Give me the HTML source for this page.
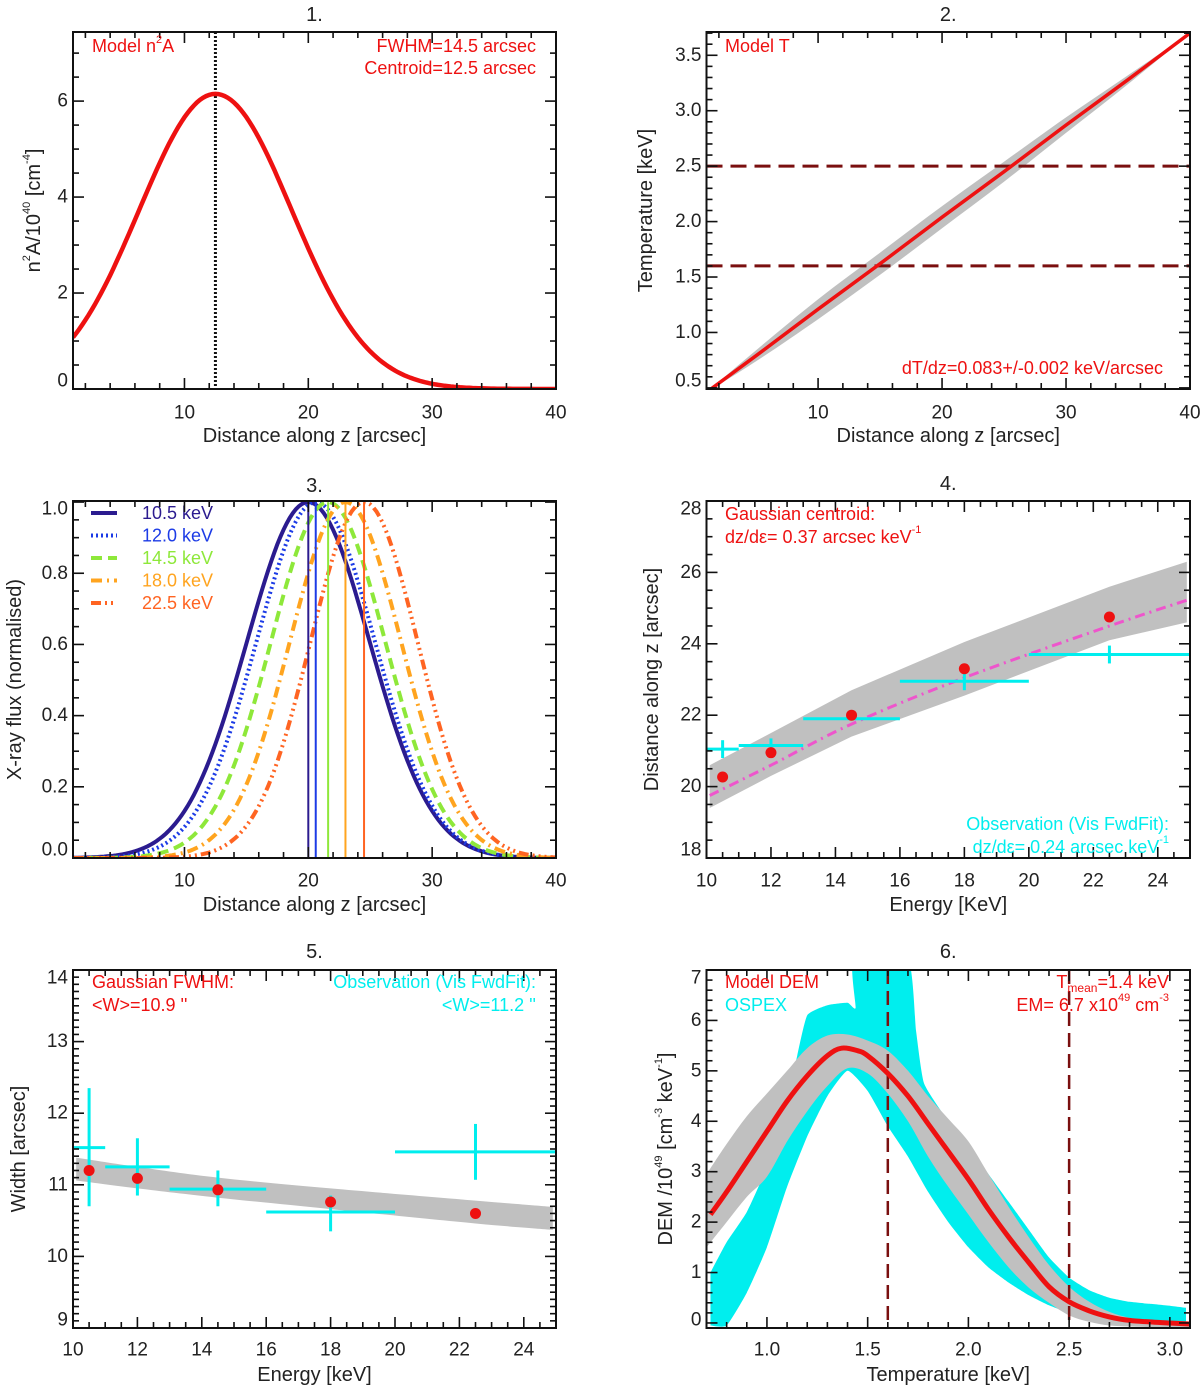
<!DOCTYPE html>
<html><head><meta charset="utf-8"><title>Six panel model figure</title>
<style>
html,body{margin:0;padding:0;background:#fff;}
svg{display:block;font-family:"Liberation Sans",sans-serif;}
.tk{font-size:19px;fill:#222;}
.ttl{font-size:20px;fill:#222;}
.ann{font-size:18px;}
</style></head>
<body>
<svg id="fig" xmlns="http://www.w3.org/2000/svg" width="1200" height="1387" viewBox="0 0 1200 1387"></svg>
<script>
// ---------- DATA ----------
const p1Peak = [6.15];
const p1Centroid = [12.5];
const p1Fwhm = [14.5];
const p2Z = [1, 5, 10, 15, 20, 25, 30, 35, 40];
const p2T = [0.46, 0.79, 1.21, 1.62, 2.04, 2.45, 2.87, 3.28, 3.70];
const p2Band = [0.0, 0.05, 0.09, 0.10, 0.10, 0.09, 0.07, 0.04, 0.0];
const p2Levels = [1.6, 2.5];
const p3Energies = ["10.5", "12.0", "14.5", "18.0", "22.5"];
const p3Centroid = [20.0, 20.6, 21.6, 23.0, 24.5];
const p3Fwhm = [11.7, 11.3, 10.9, 10.6, 10.2];
const p4BandE = [10.1, 12, 14.5, 18, 22.5, 24.9];
const p4BandHi = [20.6, 21.5, 22.7, 24.05, 25.6, 26.3];
const p4BandLo = [19.4, 20.3, 21.4, 22.55, 24.1, 24.6];
const p4FitE = [10.1, 12, 14.5, 18, 22.5, 25];
const p4FitZ = [19.75, 20.6, 21.75, 23.05, 24.5, 25.25];
const p4ModelE = [10.5, 12, 14.5, 18, 22.5];
const p4ModelZ = [20.27, 20.95, 22.0, 23.3, 24.75];
const p4ObsZ = [21.05, 21.15, 21.9, 22.95, 23.7];
const p4ObsELo = [10, 11, 13, 16, 20];
const p4ObsEHi = [11, 13, 16, 20, 25];
const p4ObsErr = [0.25, 0.2, 0.05, 0.25, 0.25];
const p5BandE = [10.1, 12, 14.5, 18, 22.5, 24.9];
const p5BandHi = [11.38, 11.25, 11.1, 10.95, 10.78, 10.69];
const p5BandLo = [11.06, 10.95, 10.82, 10.66, 10.46, 10.37];
const p5ModelE = [10.5, 12, 14.5, 18, 22.5];
const p5ModelW = [11.2, 11.09, 10.93, 10.76, 10.6];
const p5ObsW = [11.52, 11.25, 10.94, 10.62, 11.46];
const p5ObsWLo = [10.7, 10.85, 10.7, 10.35, 11.07];
const p5ObsWHi = [12.35, 11.65, 11.2, 10.85, 11.85];
const p5ObsELo = [10, 11, 13, 16, 20];
const p5ObsEHi = [11, 13, 16, 20, 25];
const p6T = [0.72, 0.8, 0.9, 1.0, 1.1, 1.2, 1.3, 1.37, 1.45, 1.5, 1.6, 1.7, 1.8, 1.9, 2.0, 2.1, 2.2, 2.3, 2.4, 2.5, 2.6, 2.7, 2.8, 2.9, 3.0, 3.1];
const p6Dem = [2.15, 2.6, 3.2, 3.8, 4.4, 4.9, 5.3, 5.45, 5.4, 5.3, 4.95, 4.5, 3.95, 3.4, 2.85, 2.25, 1.7, 1.2, 0.72, 0.42, 0.24, 0.12, 0.05, 0.02, 0.0, -0.02];
const p6BandT = [0.7, 0.8, 0.9, 1.0, 1.1, 1.2, 1.3, 1.4, 1.5, 1.6, 1.7, 1.8, 1.9, 2.0, 2.1, 2.2, 2.3, 2.4, 2.5, 2.6, 2.7, 2.8, 2.9, 3.0, 3.1];
const p6BandHi = [2.95, 3.55, 4.1, 4.55, 5.0, 5.45, 5.7, 5.72, 5.6, 5.4, 5.0, 4.5, 4.05, 3.6, 2.95, 2.3, 1.7, 1.15, 0.72, 0.42, 0.22, 0.1, 0.04, 0.0, -0.05];
const p6BandLo = [1.5, 2.0, 2.5, 2.9, 3.6, 4.2, 4.7, 5.05, 4.95, 4.55, 4.0, 3.3, 2.7, 2.15, 1.6, 1.1, 0.7, 0.4, 0.15, 0.02, -0.05, -0.07, -0.08, -0.08, -0.08];
const p6OspexUpT = [0.72, 0.8, 0.9, 1.0, 1.1, 1.15, 1.2, 1.3, 1.4, 1.44, 1.43, 1.70, 1.74, 1.78, 1.9, 2.0, 2.1, 2.2, 2.3, 2.4, 2.5, 2.6, 2.7, 2.8, 2.9, 3.0, 3.08];
const p6OspexUp = [1.0, 1.6, 2.2, 3.1, 4.4, 5.3, 6.1, 6.3, 6.35, 6.25, 7.2, 7.2, 5.8, 4.75, 4.0, 3.5, 2.95, 2.4, 1.85, 1.3, 0.9, 0.65, 0.5, 0.42, 0.38, 0.34, 0.3];
const p6OspexLoT = [0.72, 0.8, 0.9, 1.0, 1.1, 1.2, 1.3, 1.4, 1.5, 1.6, 1.7, 1.8, 1.9, 2.0, 2.1, 2.2, 2.3, 2.4, 2.5, 2.6, 2.7, 2.8, 3.08];
const p6OspexLo = [-0.05, -0.05, 0.6, 1.5, 2.7, 3.7, 4.5, 5.0, 4.6, 3.9, 3.3, 2.6, 2.0, 1.5, 1.1, 0.8, 0.55, 0.35, 0.2, 0.12, 0.08, 0.05, 0.0];
const p6Levels = [1.6, 2.5];

// ---------- HELPERS ----------
const NS = "http://www.w3.org/2000/svg";
const svg = document.getElementById("fig");
function mk(tag, attrs, parent) {
  const e = document.createElementNS(NS, tag);
  for (const k in attrs) e.setAttribute(k, attrs[k]);
  (parent || svg).appendChild(e);
  return e;
}
function panel(id, x0, x1, y0, y1, xr, yr) {
  const g = mk("g", {});
  
  
  const cp = mk("clipPath", { id: "clip-" + id }, g);
  mk("rect", { x: x0, y: y0, width: x1 - x0, height: y1 - y0 }, cp);
  const plot = mk("g", { "clip-path": "url(#clip-" + id + ")" }, g);
  
  
  return {
    g, plot, x0, x1, y0, y1,
    sx: v => x0 + (v - xr[0]) / (xr[1] - xr[0]) * (x1 - x0),
    sy: v => y1 - (v - yr[0]) / (yr[1] - yr[0]) * (y1 - y0),
    xr, yr
  };
}
function axes(P, xt, yt, xlab, ylab, title, xfmt, yfmt, xlabY, ylabX, titleY) {
  const { g, x0, x1, y0, y1 } = P;
  const eps = 1e-6;
  const tg = mk("g", { stroke: "#111", "stroke-width": 1.6 }, g);
  
  
  for (let v = Math.ceil((P.xr[0] - eps) / xt[1]) * xt[1]; v <= P.xr[1] + eps; v += xt[1]) {
    const maj = Math.abs(v / xt[0] - Math.round(v / xt[0])) < 1e-4;
    const L = maj ? 11 : 6, X = P.sx(v);
    mk("line", { x1: X, x2: X, y1: y1, y2: y1 - L }, tg);
    mk("line", { x1: X, x2: X, y1: y0, y2: y0 + L }, tg);
  }
  for (let v = Math.ceil((P.yr[0] - eps) / yt[1]) * yt[1]; v <= P.yr[1] + eps; v += yt[1]) {
    const maj = Math.abs(v / yt[0] - Math.round(v / yt[0])) < 1e-4;
    const L = maj ? 11 : 6, Y = P.sy(v);
    mk("line", { y1: Y, y2: Y, x1: x0, x2: x0 + L }, tg);
    mk("line", { y1: Y, y2: Y, x1: x1, x2: x1 - L }, tg);
  }
  for (const v of xt[2]) {
    const t = mk("text", { x: P.sx(v), y: xlabY, "text-anchor": "middle", "dominant-baseline": "central", class: "tk" }, g);
    t.textContent = xfmt(v);
    
    
  }
  for (const v of yt[2]) {
    let Y = P.sy(v);
    Y = Math.min(Math.max(Y, y0 + 8), y1 - 8);
    const t = mk("text", { x: x0 - 5, y: Y, "text-anchor": "end", "dominant-baseline": "central", class: "tk" }, g);
    t.textContent = yfmt(v);
    
    
  }
  const fr = mk("rect", { x: x0, y: y0, width: x1 - x0, height: y1 - y0, fill: "none", stroke: "#111", "stroke-width": 2 }, g);
  
  
  const xl = mk("text", { x: (x0 + x1) / 2, y: y1 + 47, "text-anchor": "middle", "dominant-baseline": "central", class: "ttl" }, g);
  xl.innerHTML = xlab;
  
  
  const yl = mk("text", { x: ylabX, y: (y0 + y1) / 2, "text-anchor": "middle", "dominant-baseline": "central", class: "ttl", transform: "rotate(-90 " + ylabX + " " + (y0 + y1) / 2 + ")" }, g);
  yl.innerHTML = ylab;
  
  
  const tt = mk("text", { x: (x0 + x1) / 2, y: titleY, "text-anchor": "middle", "dominant-baseline": "central", class: "ttl" }, g);
  tt.textContent = title;
  
  
}
function txt(P, x, y, s, color, anchor, name) {
  const t = mk("text", { x: x, y: y, fill: color, "text-anchor": anchor || "start", "dominant-baseline": "central", class: "ann" }, P.g);
  t.innerHTML = s;
  
  
  return t;
}
function linePath(P, xs, ys) {
  return xs.map((x, i) => (i ? "L" : "M") + P.sx(x).toFixed(1) + "," + P.sy(ys[i]).toFixed(1)).join("");
}
// Catmull-Rom smoothing through points (pixel space); returns segments without the initial M if cont
function smoothSeg(pts, cont, tension) {
  const k = tension === undefined ? 1 : tension;
  let d = (cont ? "L" : "M") + pts[0][0].toFixed(1) + "," + pts[0][1].toFixed(1);
  for (let i = 0; i < pts.length - 1; i++) {
    const p0 = pts[Math.max(0, i - 1)], p1 = pts[i], p2 = pts[i + 1], p3 = pts[Math.min(pts.length - 1, i + 2)];
    const c1x = p1[0] + k * (p2[0] - p0[0]) / 6, c1y = p1[1] + k * (p2[1] - p0[1]) / 6;
    const c2x = p2[0] - k * (p3[0] - p1[0]) / 6, c2y = p2[1] - k * (p3[1] - p1[1]) / 6;
    d += "C" + c1x.toFixed(1) + "," + c1y.toFixed(1) + " " + c2x.toFixed(1) + "," + c2y.toFixed(1) + " " + p2[0].toFixed(1) + "," + p2[1].toFixed(1);
  }
  return d;
}
function smoothPath(P, xs, ys, tension) {
  return smoothSeg(xs.map((x, i) => [P.sx(x), P.sy(ys[i])]), false, tension);
}
function bandPath(P, xs, hi, lo) {
  let d = linePath(P, xs, hi);
  for (let i = xs.length - 1; i >= 0; i--) d += "L" + P.sx(xs[i]).toFixed(1) + "," + P.sy(lo[i]).toFixed(1);
  return d + "Z";
}
function smoothBand(P, xh, hi, xl, lo, tension) {
  const a = xh.map((x, i) => [P.sx(x), P.sy(hi[i])]);
  const b = xl.map((x, i) => [P.sx(x), P.sy(lo[i])]).reverse();
  return smoothSeg(a, false, tension) + smoothSeg(b, true, tension) + "Z";
}
function gauss(peak, c, fwhm, z) {
  const s = fwhm / 2.3548;
  return peak * Math.exp(-(z - c) * (z - c) / (2 * s * s));
}
const f0 = v => String(v), f1 = v => v.toFixed(1);
const RED = "#ee1111", CYAN = "#00eeee", GRAY = "#c0c0c0", DARKRED = "#7a0f0f";

// ---------- PANEL 1 ----------
{
  const P = panel("panel-1", 73, 556, 32, 389, [1, 40], [0, 7.44]);
  const zs = []; for (let z = 1; z <= 40.001; z += 0.25) zs.push(z);
  const ys = zs.map(z => gauss(p1Peak[0], p1Centroid[0], p1Fwhm[0], z));
  const cl = mk("line", { x1: P.sx(p1Centroid[0]), x2: P.sx(p1Centroid[0]), y1: P.y0, y2: P.y1, stroke: "#111", "stroke-width": 3, "stroke-dasharray": "2,2" }, P.plot);
  
  
  const c = mk("path", { d: linePath(P, zs, ys), fill: "none", stroke: RED, "stroke-width": 4.5 }, P.plot);
  
  
  axes(P, [10, 2, [10, 20, 30, 40]], [2, 0.5, [0, 2, 4, 6]], "Distance along z [arcsec]", "n<tspan font-size='11' dy='-7'>2</tspan><tspan dy='7'>A/10</tspan><tspan font-size='11' dy='-7'>40</tspan><tspan dy='7'> [cm</tspan><tspan font-size='11' dy='-7'>-4</tspan><tspan dy='7'>]</tspan>", "1.", f0, f0, 413, 34, 15);
  txt(P, 92, 46, "Model n<tspan font-size='11' dy='-6'>2</tspan><tspan dy='6'>A</tspan>", RED, "start", "model-label");
  txt(P, 536, 46, "FWHM=14.5 arcsec", RED, "end", "fwhm-label");
  txt(P, 536, 68, "Centroid=12.5 arcsec", RED, "end", "centroid-label");
}
// ---------- PANEL 2 ----------
{
  const P = panel("panel-2", 706.5, 1190, 32, 389, [1, 40], [0.49, 3.71]);
  const b = mk("path", { d: smoothBand(P, p2Z, p2T.map((t, i) => t + p2Band[i]), p2Z, p2T.map((t, i) => t - p2Band[i])), fill: GRAY, stroke: "none" }, P.plot);
  
  
  p2Levels.forEach(v => {
    const l = mk("line", { x1: P.x0, x2: P.x1, y1: P.sy(v), y2: P.sy(v), stroke: DARKRED, "stroke-width": 3, "stroke-dasharray": "16,8" }, P.plot);
    
    
  });
  const c = mk("path", { d: linePath(P, p2Z, p2T), fill: "none", stroke: RED, "stroke-width": 3.5 }, P.plot);
  
  
  axes(P, [10, 2, [10, 20, 30, 40]], [0.5, 0.1, [0.5, 1, 1.5, 2, 2.5, 3, 3.5]], "Distance along z [arcsec]", "Temperature [keV]", "2.", f0, f1, 413, 646, 15);
  txt(P, 725, 46, "Model T", RED, "start", "model-label");
  txt(P, 1163, 368, "dT/dz=0.083+/-0.002 keV/arcsec", RED, "end", "gradient-label");
}
// ---------- PANEL 3 ----------
{
  const P = panel("panel-3", 73, 556, 501, 858, [1, 40], [0, 1.003]);
  const cols = ["#2b1b8f", "#1c3be6", "#8ee83a", "#ffa41f", "#ff6422"];
  const dashes = ["none", "2,3", "11,6", "11,5,2,5", "10,4,2,4,2,4,2,4"];
  const zs = []; for (let z = 1; z <= 40.001; z += 0.25) zs.push(z);
  p3Energies.forEach((e, i) => {
    const ys = zs.map(z => gauss(1, p3Centroid[i], p3Fwhm[i], z));
    const c = mk("path", { d: linePath(P, zs, ys), fill: "none", stroke: cols[i], "stroke-width": 4, "stroke-dasharray": dashes[i] }, P.plot);
    
    
  });
  p3Energies.forEach((e, i) => {
    const l = mk("line", { x1: P.sx(p3Centroid[i]), x2: P.sx(p3Centroid[i]), y1: P.sy(0), y2: P.sy(1), stroke: cols[i], "stroke-width": 2 }, P.plot);
    
    
  });
  p3Energies.forEach((e, i) => {
    const y = 513 + i * 22.5;
    const lg = mk("g", {}, P.g);
    
    
    mk("line", { x1: 91, x2: 117, y1: y, y2: y, stroke: cols[i], "stroke-width": 4, "stroke-dasharray": dashes[i] }, lg);
    const t = mk("text", { x: 142, y: y, fill: cols[i], "dominant-baseline": "central", class: "ann" }, lg);
    t.textContent = e + " keV";
  });
  axes(P, [10, 2, [10, 20, 30, 40]], [0.2, 0.05, [0, 0.2, 0.4, 0.6, 0.8, 1.0]], "Distance along z [arcsec]", "X-ray flux (normalised)", "3.", f0, f1, 881, 15, 486);
}
// ---------- PANEL 4 ----------
{
  const P = panel("panel-4", 706.5, 1190, 501, 858, [10, 25], [18, 28]);
  const b = mk("path", { d: bandPath(P, p4BandE, p4BandHi, p4BandLo), fill: GRAY }, P.plot);
  
  
  const f = mk("path", { d: smoothPath(P, p4FitE, p4FitZ), fill: "none", stroke: "#ee55cc", "stroke-width": 3, "stroke-dasharray": "10,5,2,5" }, P.plot);
  
  
  p4ModelE.forEach((e, i) => {
    const g = mk("g", { stroke: CYAN, "stroke-width": 3 }, P.plot);
    
    
    mk("line", { x1: P.sx(p4ObsELo[i]), x2: P.sx(p4ObsEHi[i]), y1: P.sy(p4ObsZ[i]), y2: P.sy(p4ObsZ[i]) }, g);
    mk("line", { x1: P.sx(e), x2: P.sx(e), y1: P.sy(p4ObsZ[i] - p4ObsErr[i]), y2: P.sy(p4ObsZ[i] + p4ObsErr[i]) }, g);
  });
  p4ModelE.forEach((e, i) => {
    const c = mk("circle", { cx: P.sx(e), cy: P.sy(p4ModelZ[i]), r: 5.5, fill: RED }, P.plot);
    
    
  });
  axes(P, [2, 0.5, [10, 12, 14, 16, 18, 20, 22, 24]], [2, 0.5, [18, 20, 22, 24, 26, 28]], "Energy [KeV]", "Distance along z [arcsec]", "4.", f0, f0, 881, 652, 484);
  txt(P, 725, 514, "Gaussian centroid:", RED, "start", "model-label");
  txt(P, 725, 537, "dz/d&#949;= 0.37 arcsec keV<tspan font-size='11' dy='-7'>-1</tspan>", RED, "start", "model-slope-label");
  txt(P, 1169, 824, "Observation (Vis FwdFit):", CYAN, "end", "observation-label");
  txt(P, 1169, 847, "dz/d&#949;= 0.24 arcsec keV<tspan font-size='11' dy='-7'>-1</tspan>", CYAN, "end", "observation-slope-label");
}
// ---------- PANEL 5 ----------
{
  const P = panel("panel-5", 73, 556, 970, 1328, [10, 25], [9, 14]);
  const b = mk("path", { d: smoothBand(P, p5BandE, p5BandHi, p5BandE, p5BandLo), fill: GRAY }, P.plot);
  
  
  p5ModelE.forEach((e, i) => {
    const g = mk("g", { stroke: CYAN, "stroke-width": 3 }, P.plot);
    
    
    mk("line", { x1: P.sx(p5ObsELo[i]), x2: P.sx(p5ObsEHi[i]), y1: P.sy(p5ObsW[i]), y2: P.sy(p5ObsW[i]) }, g);
    mk("line", { x1: P.sx(e), x2: P.sx(e), y1: P.sy(p5ObsWLo[i]), y2: P.sy(p5ObsWHi[i]) }, g);
  });
  p5ModelE.forEach((e, i) => {
    const c = mk("circle", { cx: P.sx(e), cy: P.sy(p5ModelW[i]), r: 5.5, fill: RED }, P.plot);
    
    
  });
  axes(P, [2, 0.5, [10, 12, 14, 16, 18, 20, 22, 24]], [1, 0.1, [9, 10, 11, 12, 13, 14]], "Energy [keV]", "Width [arcsec]", "5.", f0, f0, 1350, 19, 952);
  txt(P, 92, 982, "Gaussian FWHM:", RED, "start", "model-label");
  txt(P, 92, 1005, "&lt;W&gt;=10.9 ''", RED, "start", "model-mean-label");
  txt(P, 536, 982, "Observation (Vis FwdFit):", CYAN, "end", "observation-label");
  txt(P, 536, 1005, "&lt;W&gt;=11.2 ''", CYAN, "end", "observation-mean-label");
}
// ---------- PANEL 6 ----------
{
  const P = panel("panel-6", 706.5, 1190, 970, 1328, [0.7, 3.1], [-0.1, 7.0]);
  const o = mk("path", { d: smoothBand(P, p6OspexUpT, p6OspexUp, p6OspexLoT, p6OspexLo, 0.5), fill: CYAN }, P.plot);
  
  
  const b = mk("path", { d: smoothBand(P, p6BandT, p6BandHi, p6BandT, p6BandLo), fill: GRAY }, P.plot);
  
  
  p6Levels.forEach(v => {
    const l = mk("line", { x1: P.sx(v), x2: P.sx(v), y1: P.y0, y2: P.y1, stroke: DARKRED, "stroke-width": 2.5, "stroke-dasharray": "14,7" }, P.plot);
    
    
  });
  const c = mk("path", { d: smoothPath(P, p6T, p6Dem), fill: "none", stroke: RED, "stroke-width": 5, "stroke-linejoin": "round" }, P.plot);
  
  
  axes(P, [0.5, 0.1, [1, 1.5, 2, 2.5, 3]], [1, 0.2, [0, 1, 2, 3, 4, 5, 6, 7]], "Temperature [keV]", "DEM  /10<tspan font-size='11' dy='-7'>49</tspan><tspan dy='7'> [cm</tspan><tspan font-size='11' dy='-7'>-3</tspan><tspan dy='7'> keV</tspan><tspan font-size='11' dy='-7'>-1</tspan><tspan dy='7'>]</tspan>", "6.", f1, f0, 1350, 666, 952);
  txt(P, 725, 982, "Model DEM", RED, "start", "model-label");
  txt(P, 725, 1005, "OSPEX", CYAN, "start", "ospex-label");
  txt(P, 1169, 982, "T<tspan font-size='12' dy='6'>mean</tspan><tspan dy='-6'>=1.4 keV</tspan>", RED, "end", "mean-temperature-label");
  txt(P, 1169, 1005, "EM= 6.7 x10<tspan font-size='11' dy='-7'>49</tspan><tspan dy='7'> cm</tspan><tspan font-size='11' dy='-7'>-3</tspan>", RED, "end", "emission-measure-label");
}
</script>
</body></html>
